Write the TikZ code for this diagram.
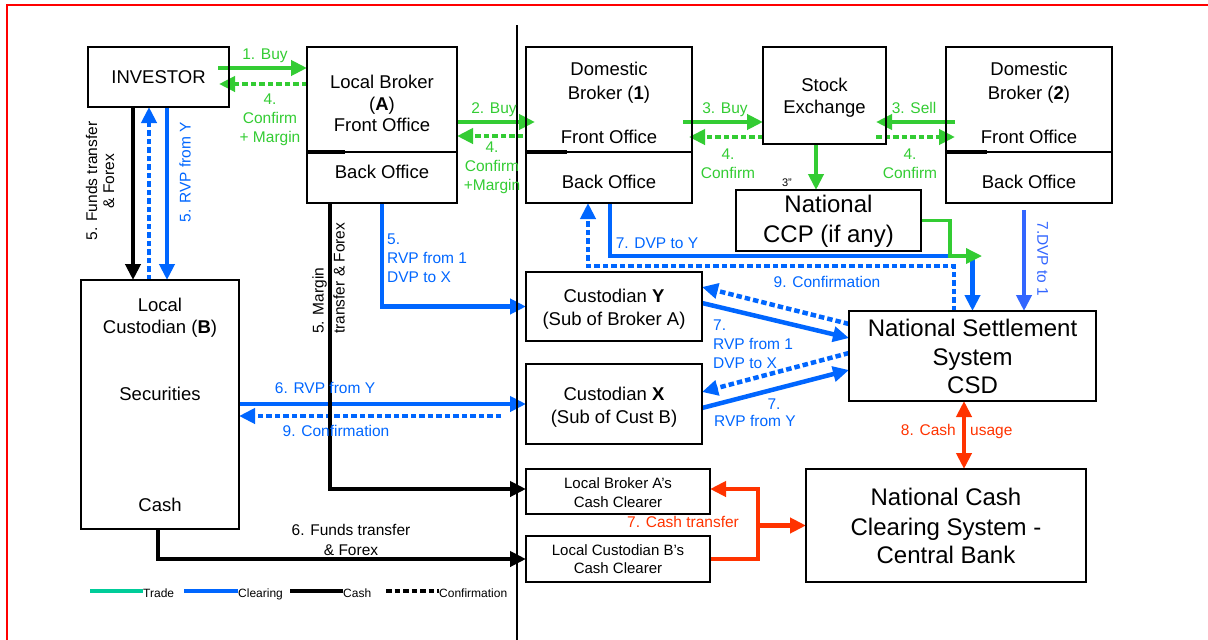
\documentclass[tikz,border=0pt]{standalone}
\usepackage{fontspec}
\setmainfont{Liberation Sans}
\usetikzlibrary{arrows.meta,backgrounds}
\definecolor{tgreen}{RGB}{51,204,51}
\definecolor{cblue}{RGB}{0,102,255}
\definecolor{lblue}{RGB}{51,102,255}
\definecolor{cred}{RGB}{255,51,0}
\definecolor{legteal}{RGB}{0,204,153}
\definecolor{framered}{RGB}{255,0,0}
\begin{document}
\begin{tikzpicture}[x=1pt,y=-1pt,
  box/.style={draw, line width=1.8pt, inner sep=0pt, outer sep=0pt},
  bt/.style={inner sep=0pt, font=\fontsize{18.5}{22}\selectfont, text height=13.3pt, text depth=0pt},
  big/.style={inner sep=0pt, font=\fontsize{24}{28}\selectfont, text height=17.2pt, text depth=0pt},
  sm/.style={inner sep=0pt, font=\fontsize{15}{18}\selectfont, text height=10.8pt, text depth=0pt},
  lab/.style={inner sep=0pt, font=\fontsize{15.5}{19}\selectfont, align=center},
  lab1/.style={inner sep=0pt, font=\fontsize{15.5}{19}\selectfont, text height=11.1pt, text depth=0pt},
  leg/.style={inner sep=0pt, font=\fontsize{12}{14}\selectfont, anchor=west, text height=8.6pt, text depth=0pt},
  conn/.style={line width=4.5pt, -{Triangle[length=16pt,width=15pt]}},
  dotline/.style={dash pattern=on 5.5pt off 3pt},
  trade/.style={conn, draw=tgreen},
  clear/.style={conn, draw=cblue},
  cash/.style={conn, draw=black},
  money/.style={conn, draw=cred},
]
\useasboundingbox (0,0) rectangle (1208,640);
% frame and divider
\draw[framered, line width=2pt] (7,640) -- (7,5) -- (1208,5);
\draw[line width=2pt] (517,25) -- (517,640);

% boxes
\node[box, minimum width=141pt, minimum height=60pt] (inv) at (158.5,77) {};
\node[box, minimum width=150pt, minimum height=105pt] (lbfo) at (382,99.5) {};
\node[box, minimum width=150pt, minimum height=51pt] (lbbo) at (382,177.5) {};
\node[box, minimum width=166pt, minimum height=105pt] (d1fo) at (609,99.5) {};
\node[box, minimum width=166pt, minimum height=51pt] (d1bo) at (609,177.5) {};
\node[box, minimum width=123pt, minimum height=97pt] (se) at (824.5,95.5) {};
\node[box, minimum width=166pt, minimum height=105pt] (d2fo) at (1029,99.5) {};
\node[box, minimum width=166pt, minimum height=51pt] (d2bo) at (1029,177.5) {};
\node[box, minimum width=185pt, minimum height=61pt] (ccp) at (828.5,220.5) {};
\node[box, minimum width=247pt, minimum height=90pt] (nss) at (972.5,356) {};
\node[box, minimum width=158pt, minimum height=249pt] (lc) at (160,404.5) {};
\node[box, minimum width=176pt, minimum height=69pt] (cy) at (614,306.5) {};
\node[box, minimum width=176pt, minimum height=80pt] (cx) at (614,404) {};
\node[box, minimum width=184pt, minimum height=45pt] (lbcc) at (618,491.5) {};
\node[box, minimum width=184pt, minimum height=46pt] (lccc) at (618,559) {};
\node[box, minimum width=280pt, minimum height=113pt] (nccs) at (946,525.5) {};
% thick joins between front and back offices
\draw[line width=4pt] (307,152) -- (345,152);
\draw[line width=4pt] (526,152) -- (567,152);
\draw[line width=4pt] (946,152) -- (987,152);

% box texts
\node[bt] (tinv) at (158.5,77) {INVESTOR};
\node[bt] (tlb1) at (382,82) {Local Broker};
\node[bt] (tlb2) at (382,104) {(\textbf{A})};
\node[bt] (tlb3) at (382,125) {Front Office};
\node[bt] (tlb4) at (382,172) {Back Office};
\node[bt] (td11) at (609,69) {Domestic};
\node[bt] (td12) at (609,93) {Broker (\textbf{1})};
\node[bt] (td13) at (609,137) {Front Office};
\node[bt] (td14) at (609,182) {Back Office};
\node[bt] (tse1) at (824.5,85) {Stock};
\node[bt] (tse2) at (824.5,107) {Exchange};
\node[bt] (td21) at (1029,69) {Domestic};
\node[bt] (td22) at (1029,93) {Broker (\textbf{2})};
\node[bt] (td23) at (1029,137) {Front Office};
\node[bt] (td24) at (1029,182) {Back Office};
\node[big] (tccp1) at (828.5,204) {National};
\node[big] (tccp2) at (828.5,234) {CCP (if any)};
\node[big] (tnss1) at (972.5,328) {National Settlement};
\node[big] (tnss2) at (972.5,357) {System};
\node[big] (tnss3) at (972.5,385) {CSD};
\node[bt] (tlc1) at (160,305) {Local};
\node[bt] (tlc2) at (160,327) {Custodian (\textbf{B})};
\node[bt] (tlc3) at (160,394) {Securities};
\node[bt] (tlc4) at (160,505) {Cash};
\node[bt] (tcy1) at (614,296) {Custodian \textbf{Y}};
\node[bt] (tcy2) at (614,318.5) {(Sub of Broker A)};
\node[bt] (tcx1) at (614,394) {Custodian \textbf{X}};
\node[bt] (tcx2) at (614,417) {(Sub of Cust B)};
\node[sm] (tlb5) at (618,483) {Local Broker A's};
\node[sm] (tlb6) at (618,502) {Cash Clearer};
\node[sm] (tlc5) at (618,550) {Local Custodian B's};
\node[sm] (tlc6) at (618,568) {Cash Clearer};
\node[big] (tnc1) at (946,497) {National Cash};
\node[big] (tnc2) at (946,527) {Clearing System -};
\node[big] (tnc3) at (946,555) {Central Bank};

\coordinate (ccpturn) at (950,256);
\coordinate (ccpend) at (982,256);

\begin{scope}[on background layer]
% trade
\draw[trade] ([xshift=-11pt,yshift=9pt]inv.east) -- ([yshift=9pt]inv.east -| lbfo.west);
\draw[trade, dotline] ([yshift=-7pt]inv.east -| lbfo.west) -- ([xshift=-10pt,yshift=-7pt]inv.east);
\draw[trade] ([yshift=-22.5pt]lbfo.east) -- ([xshift=9pt,yshift=-22.5pt]lbfo.east -| d1fo.west);
\draw[trade, dotline] ([xshift=-3pt,yshift=-36.5pt]lbfo.east -| d1fo.west) -- ([yshift=-36.5pt]lbfo.east);
\draw[trade] ([xshift=-9pt,yshift=-22.5pt]d1fo.east) -- ([yshift=-22.5pt]d1fo.east -| se.west);
\draw[trade, dotline] ([yshift=-37.5pt]d1fo.east -| se.west) -- ([xshift=-3pt,yshift=-37.5pt]d1fo.east);
\draw[trade] ([xshift=9pt,yshift=-22.5pt]d2fo.west) -- ([xshift=-10pt,yshift=-22.5pt]d2fo.west -| se.east);
\draw[trade, dotline] ([xshift=-10pt,yshift=-37.5pt]d2fo.west -| se.east) -- ([xshift=9pt,yshift=-37.5pt]d2fo.west);
\draw[trade] ([xshift=-8.5pt]se.south) -- ([xshift=-8.5pt]se.south |- ccp.north);
% clearing
\draw[clear] ([xshift=8.5pt]inv.south) -- ([xshift=8.5pt]inv.south |- lc.north);
\draw[clear, dotline] ([xshift=-9.5pt]inv.south |- lc.north) -- ([xshift=-9.5pt]inv.south);
\draw[clear] (lbbo.south) |- (cy.west);
\draw[clear] (lc.east |- cx.west) -- (cx.west);
\draw[clear, dotline] ([xshift=-25pt,yshift=-12pt]cx.west) -- ([yshift=-12pt]cx.west -| lc.east);
\draw[clear] ([xshift=1pt]d1bo.south) |- ([yshift=55pt]nss.north) -- (nss.north);
\draw[clear, dotline] ([xshift=-18.5pt]nss.north) |- ([xshift=-21pt,yshift=-63pt]d1bo.south) -- ([xshift=-21pt]d1bo.south);
\draw[clear, draw=lblue] ([xshift=-5pt,yshift=-7pt]d2bo.south) -- ([xshift=-5pt]d2bo.south |- nss.north);
\draw[clear] ([yshift=3.5pt]cy.east) -- ([yshift=18pt]nss.west);
\draw[clear, dotline] ([yshift=32pt]nss.west) -- ([yshift=19.5pt]cy.east);
\draw[clear, dotline] ([yshift=3pt]nss.west) -- ([yshift=12pt]cx.east);
\draw[clear] ([yshift=-4pt]cx.east) -- ([yshift=-14pt]nss.west);
\draw[trade, line width=3.5pt] (ccp.east) -| (ccpturn) -- (ccpend);
% cash
\draw[cash] ([xshift=-25.5pt]inv.south) -- ([xshift=-25.5pt]inv.south |- lc.north);
\draw[cash] ([xshift=-52pt]lbbo.south) |- ([yshift=2.5pt]lbcc.west);
\draw[cash] ([xshift=-2pt]lc.south) |- (lccc.west);
% central bank money
\draw[money, {Triangle[length=16pt,width=15pt]}-{Triangle[length=16pt,width=15pt]}] ([xshift=-8.5pt]nss.south) -- ([xshift=-8.5pt]nss.south |- nccs.north);
\draw[money] (lccc.east) -| ([xshift=48pt,yshift=2.5pt]lbcc.east) -- ([yshift=2.5pt]lbcc.east);
\draw[money] ([xshift=-48pt]nccs.west) -- (nccs.west);
\end{scope}

% green labels
\node[lab1, text=tgreen] (l1) at (265,54) {1. Buy};
\node[lab, text=tgreen] (l4a) at (270,120) {4.\\Confirm\\+ Margin};
\node[lab1, text=tgreen] (l2) at (494,107.5) {2. Buy};
\node[lab, text=tgreen] (l4b) at (492,168) {4.\\Confirm\\+Margin};
\node[lab1, text=tgreen] (l3) at (725,107.5) {3. Buy};
\node[lab, text=tgreen] (l4c) at (728,164) {4.\\Confirm};
\node[lab1, text=tgreen] (l3s) at (914,107.5) {3. Sell};
\node[lab, text=tgreen] (l4d) at (910,164) {4.\\Confirm};
\node[inner sep=0pt, font=\fontsize{11}{12}\selectfont] (l3q) at (787,183) {3''};
% blue labels
\node[lab1, text=cblue, rotate=90] (lrvp) at (185,172) {5. RVP from Y};
\node[lab, text=cblue, align=left, anchor=west] (l5) at (387,258) {5.\\RVP from 1\\DVP to X};
\node[lab1, text=cblue] (l6) at (325,387.5) {6. RVP from Y};
\node[lab1, text=cblue] (l9a) at (336,430.5) {9. Confirmation};
\node[lab1, text=cblue] (l7y) at (657,242.5) {7. DVP to Y};
\node[lab1, text=cblue] (l9b) at (827,282) {9. Confirmation};
\node[lab1, text=lblue, rotate=-90] (l7d) at (1043,259) {7.DVP to 1};
\node[lab, text=cblue, align=left, anchor=west] (l7a) at (713,344) {7.\\RVP from 1\\DVP to X};
\node[lab1, text=cblue] (l7b1) at (774,404) {7.};
\node[lab1, text=cblue] (l7b2) at (755,421) {RVP from Y};
% black labels
\node[lab, rotate=90, font=\fontsize{15.5}{17}\selectfont] (lft) at (100,181) {5. Funds transfer\\\& Forex};
\node[lab1, rotate=90, anchor=west] (lm1) at (318,334) {5. Margin};
\node[lab1, rotate=90, anchor=west] (lm2) at (339,334) {transfer \& Forex};
\node[lab, font=\fontsize{15.5}{20}\selectfont] (lf6) at (351,540) {6. Funds transfer\\\& Forex};
% red labels
\node[lab1, text=cred] (lct) at (683,522) {7. Cash transfer};
\node[lab1, text=cred, anchor=east] (lcu1) at (956,430) {8. Cash};
\node[lab1, text=cred, anchor=west] (lcu2) at (970,430) {usage};

% legend
\draw[legteal, line width=4pt] (90,591) -- (143,591);
\node[leg] (lg1) at (143,593) {Trade};
\draw[cblue, line width=4pt] (184,591) -- (238,591);
\node[leg] (lg2) at (238,593) {Clearing};
\draw[black, line width=4pt] (290,591) -- (343,591);
\node[leg] (lg3) at (343,593) {Cash};
\draw[black, line width=4pt, dash pattern=on 5.5pt off 3pt] (386,591) -- (439,591);
\node[leg] (lg4) at (439,593) {Confirmation};
\end{tikzpicture}
\end{document}
